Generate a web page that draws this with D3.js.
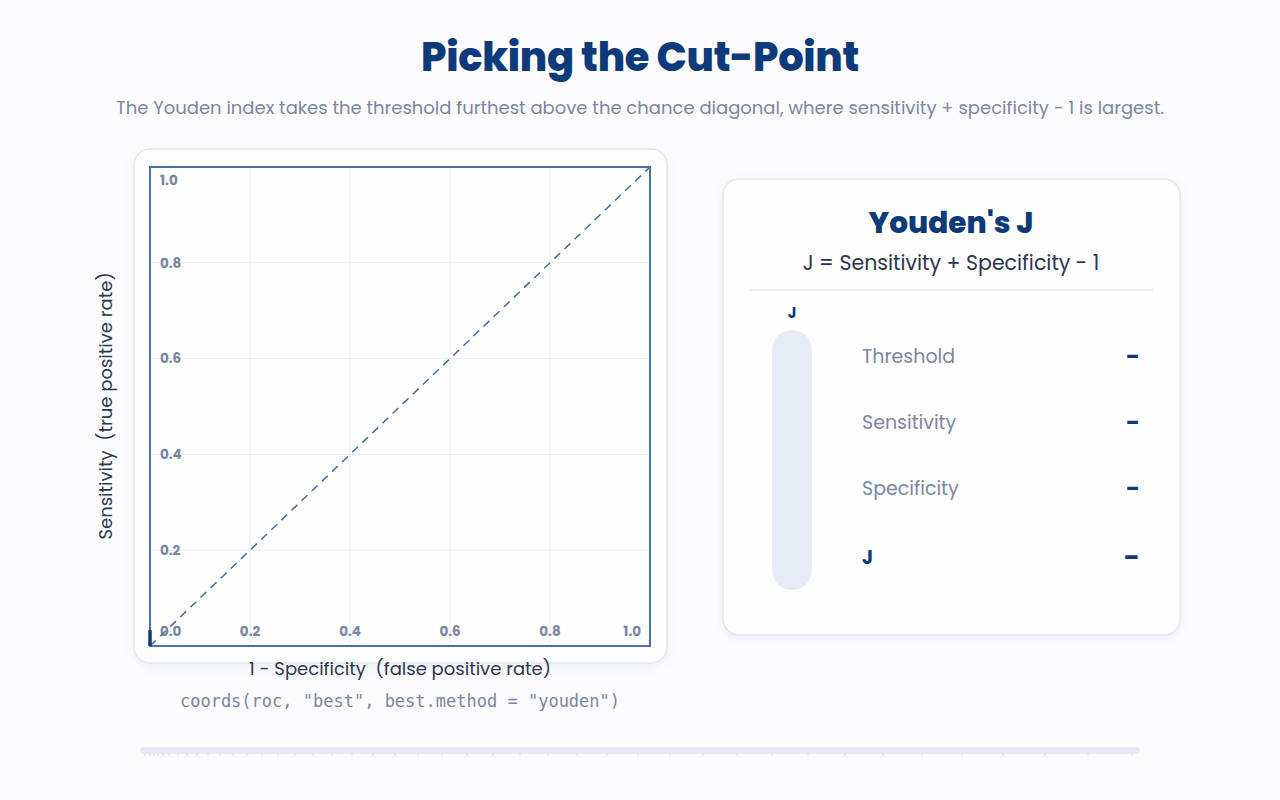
<!DOCTYPE html>
<html>
<head>
<meta charset="utf-8">
<script src="https://cdn.jsdelivr.net/npm/d3@7"></script>
<style>
  html, body { margin: 0; padding: 0; background: #fcfcfe; }
  svg { display: block; }
  text { font-family: Poppins, Inter, "Open Sans", sans-serif; white-space: pre; }
</style>
</head>
<body>
<svg id="chart" width="1280" height="800"></svg>
<script>
// ---- data ----
const title = "Picking the Cut-Point";
const subtitle = "The Youden index takes the threshold furthest above the chance diagonal, where sensitivity + specificity - 1 is largest.";
const xTicks = [0, 0.2, 0.4, 0.6, 0.8, 1.0];
const yTicks = [0, 0.2, 0.4, 0.6, 0.8, 1.0];
const diagonal = [[0, 0], [1, 1]];
const rocFpr = [0, 0];
const rocTpr = [0, 0.033];
const xTitle = "1 - Specificity  (false positive rate)";
const yTitle = "Sensitivity  (true positive rate)";
const codeLine = 'coords(roc, "best", best.method = "youden")';
const panelTitle = "Youden's J";
const panelFormula = "J = Sensitivity + Specificity - 1";
const rowLabels = ["Threshold", "Sensitivity", "Specificity", "J"];
const rowValues = ["\u2013", "\u2013", "\u2013", "\u2013"];
const jValue = 0;
const sliderTicks = [0.005, 0.010, 0.014, 0.018, 0.023, 0.029, 0.038, 0.047, 0.057, 0.068, 0.080, 0.093, 0.107, 0.122, 0.138, 0.155, 0.173, 0.192, 0.212, 0.233, 0.255, 0.278, 0.302, 0.327, 0.353, 0.380, 0.408, 0.437, 0.467, 0.498, 0.530, 0.563, 0.597, 0.632, 0.668, 0.705, 0.743, 0.782, 0.822, 0.863, 0.905, 0.948, 0.992];

// ---- colours ----
const navy = "#0d3a7a";
const frame = "#4a72a6";
const grid = "#e6eaf3";
const muted = "#7a86a0";
const dark = "#2c3550";
const cardBorder = "#e1e6ef";

const svg = d3.select("#chart");
const defs = svg.append("defs");
const f = defs.append("filter").attr("id", "shadow").attr("x", "-10%").attr("y", "-10%").attr("width", "120%").attr("height", "120%");
f.append("feDropShadow").attr("dx", 0).attr("dy", 3).attr("stdDeviation", 5).attr("flood-color", "#9aa6c0").attr("flood-opacity", 0.18);

svg.append("rect").attr("width", 1280).attr("height", 800).attr("fill", "#fcfcfe");

// title
svg.append("text").attr("x", 640).attr("y", 71).attr("text-anchor", "middle")
  .attr("font-size", 40).attr("font-weight", 800).attr("fill", navy).attr("letter-spacing", -0.3).text(title);
svg.append("text").attr("x", 640).attr("y", 114).attr("text-anchor", "middle")
  .attr("font-size", 18).attr("fill", muted).text(subtitle);

// left card
svg.append("rect").attr("x", 134).attr("y", 149).attr("width", 533).attr("height", 514).attr("rx", 16)
  .attr("fill", "#fefeff").attr("stroke", cardBorder).attr("stroke-width", 1.5).attr("filter", "url(#shadow)");

const plot = { x0: 150, x1: 650, y0: 167, y1: 646 };
const x = d3.scaleLinear().domain([0, 1]).range([plot.x0, plot.x1]);
const y = d3.scaleLinear().domain([0, 1]).range([plot.y1, plot.y0]);

const g = svg.append("g");
// grid
g.selectAll(".gx").data(xTicks.slice(1, -1)).join("line")
  .attr("x1", d => x(d)).attr("x2", d => x(d)).attr("y1", plot.y0).attr("y2", plot.y1)
  .attr("stroke", grid).attr("stroke-width", 1);
g.selectAll(".gy").data(yTicks.slice(1, -1)).join("line")
  .attr("y1", d => y(d)).attr("y2", d => y(d)).attr("x1", plot.x0).attr("x2", plot.x1)
  .attr("stroke", grid).attr("stroke-width", 1);

// tick labels (inside the plot)
const fmt = d3.format(".1f");
g.selectAll(".ly").data(yTicks.slice(1)).join("text")
  .attr("x", plot.x0 + 10)
  .attr("y", d => Math.max(y(d), plot.y0 + 13))
  .attr("dy", "0.35em")
  .attr("font-size", 13.5).attr("font-weight", 700).attr("fill", muted).text(fmt);
g.selectAll(".lx").data(xTicks).join("text")
  .attr("x", d => d === 0 ? plot.x0 + 10 : d === 1 ? plot.x1 - 9 : x(d))
  .attr("text-anchor", d => d === 0 ? "start" : d === 1 ? "end" : "middle")
  .attr("y", plot.y1 - 15).attr("dy", "0.35em")
  .attr("font-size", 13.5).attr("font-weight", 700).attr("fill", muted).text(fmt);

// diagonal
const line = d3.line().x(d => x(d[0])).y(d => y(d[1]));
g.append("path").attr("d", line(diagonal)).attr("fill", "none")
  .attr("stroke", "#3f6ba6").attr("stroke-width", 1.5).attr("stroke-dasharray", "8 6");

// frame
g.append("rect").attr("x", plot.x0).attr("y", plot.y0).attr("width", plot.x1 - plot.x0).attr("height", plot.y1 - plot.y0)
  .attr("fill", "none").attr("stroke", frame).attr("stroke-width", 2);

// roc curve (start)
const roc = rocFpr.map((v, i) => [v, rocTpr[i]]);
g.append("path").attr("d", line(roc)).attr("fill", "none")
  .attr("stroke", navy).attr("stroke-width", 3.5).attr("stroke-linecap", "butt");

// axis titles
svg.append("text").attr("x", 400).attr("y", 675).attr("text-anchor", "middle")
  .attr("font-size", 18).attr("fill", dark).text(xTitle);
svg.append("text").attr("transform", "translate(112,406) rotate(-90)").attr("text-anchor", "middle")
  .attr("font-size", 18).attr("fill", dark).text(yTitle);
svg.append("text").attr("x", 400).attr("y", 707).attr("text-anchor", "middle")
  .attr("font-size", 17).attr("fill", muted).style("font-family", "'DejaVu Sans Mono', 'Liberation Mono', monospace").text(codeLine);

// right card
svg.append("rect").attr("x", 723).attr("y", 179).attr("width", 457).attr("height", 456).attr("rx", 16)
  .attr("fill", "#fefeff").attr("stroke", cardBorder).attr("stroke-width", 1.5).attr("filter", "url(#shadow)");
svg.append("text").attr("x", 951).attr("y", 233).attr("text-anchor", "middle")
  .attr("font-size", 29.5).attr("font-weight", 800).attr("fill", navy).text(panelTitle);
svg.append("text").attr("x", 951).attr("y", 270).attr("text-anchor", "middle")
  .attr("font-size", 20.5).attr("fill", dark).text(panelFormula);
svg.append("line").attr("x1", 750).attr("x2", 1153).attr("y1", 290).attr("y2", 290)
  .attr("stroke", "#e3e8f1").attr("stroke-width", 1.5);

// J gauge
const jScale = d3.scaleLinear().domain([0, 1]).range([590, 330]);
svg.append("text").attr("x", 792).attr("y", 318).attr("text-anchor", "middle")
  .attr("font-size", 15).attr("font-weight", 700).attr("fill", navy).text("J");
svg.append("rect").attr("x", 772).attr("y", jScale(1)).attr("width", 40).attr("height", jScale(0) - jScale(1))
  .attr("rx", 20).attr("fill", "#e6ebf4");
svg.append("rect").attr("x", 772).attr("y", jScale(jValue)).attr("width", 40).attr("height", jScale(0) - jScale(jValue))
  .attr("rx", 20).attr("fill", navy);

// rows
const rowY = [356, 422, 488, 557];
rowLabels.forEach((lab, i) => {
  const isJ = lab === "J";
  svg.append("text").attr("x", 862).attr("y", rowY[i]).attr("dy", "0.35em")
    .attr("font-size", 19).attr("font-weight", isJ ? 700 : 400).attr("fill", isJ ? navy : muted).text(lab);
  svg.append("text").attr("x", 1139).attr("y", rowY[i]).attr("dy", "0.35em").attr("text-anchor", "end")
    .attr("font-size", isJ ? 22 : 19).attr("font-weight", 800).attr("fill", navy).text(rowValues[i]);
});

// threshold slider
const s = d3.scaleLinear().domain([0, 1]).range([140, 1140]);
svg.append("rect").attr("x", s(0)).attr("y", 747).attr("width", s(1) - s(0)).attr("height", 7)
  .attr("rx", 3.5).attr("fill", "#e4e9f3");
svg.selectAll(".st").data(sliderTicks).join("line")
  .attr("x1", d => s(d)).attr("x2", d => s(d)).attr("y1", 753).attr("y2", 756)
  .attr("stroke", "#d8dde8").attr("stroke-width", 1);
</script>
</body>
</html>
